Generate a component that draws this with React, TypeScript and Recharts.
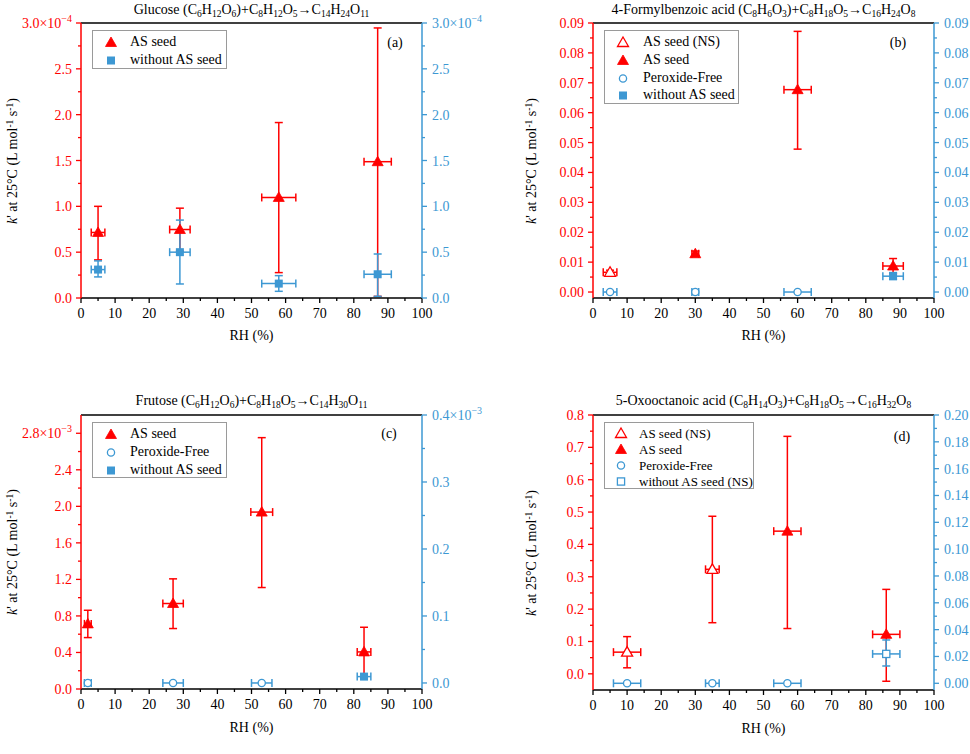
import React from 'react';
import { ScatterChart, Scatter, XAxis, YAxis, ErrorBar, ReferenceLine, Legend } from 'recharts';

const RED = '#ff0000';
const BLUE = '#3d98d3';
const FONT = '"Liberation Serif", "Times New Roman", Times, serif';

// ---------- shared x axis (RH %) ----------
const rhMajor = [0, 10, 20, 30, 40, 50, 60, 70, 80, 90, 100];
const rhLabels = ['0', '10', '20', '30', '40', '50', '60', '70', '80', '90', '100'];
const rhMinor = [5, 15, 25, 35, 45, 55, 65, 75, 85, 95];

// ---------- panel (a) Glucose, k' in 1e-4 ----------
const aTitle = 'Glucose (C_6H_12O_6)+C_8H_12O_5→C_14H_24O_11';
const aYMajor = [0, 0.5, 1.0, 1.5, 2.0, 2.5, 3.0];
const aYLabels = ['0.0', '0.5', '1.0', '1.5', '2.0', '2.5', '3.0×10'];
const aYMinor = [0.25, 0.75, 1.25, 1.75, 2.25, 2.75];
const aYExp = '−4';
const aAsRh = [5, 29, 58, 87];
const aAsRhErr = [2, 3, 5, 4];
const aAsK = [0.715, 0.747, 1.097, 1.487];
const aAsLo = [0.416, 0.51, 0.277, 0.018];
const aAsHi = [1.0, 0.98, 1.914, 2.946];
const aNoRh = [5, 29, 58, 87];
const aNoRhErr = [2, 3, 5, 4];
const aNoK = [0.31, 0.5, 0.157, 0.259];
const aNoLo = [0.23, 0.153, 0.073, 0.018];
const aNoHi = [0.405, 0.85, 0.244, 0.48];

// ---------- panel (b) 4-Formylbenzoic acid ----------
const bTitle = '4-Formylbenzoic acid (C_8H_6O_3)+C_8H_18O_5→C_16H_24O_8';
const bYMajor = [0, 0.01, 0.02, 0.03, 0.04, 0.05, 0.06, 0.07, 0.08, 0.09];
const bYLabels = ['0.00', '0.01', '0.02', '0.03', '0.04', '0.05', '0.06', '0.07', '0.08', '0.09'];
const bYMinor = [0.005, 0.015, 0.025, 0.035, 0.045, 0.055, 0.065, 0.075, 0.085];
const bNsRh = [5];
const bNsRhErr = [2];
const bNsK = [0.0066];
const bNsLo = [0.0059];
const bNsHi = [0.0073];
const bAsRh = [30, 60, 88];
const bAsRhErr = [1, 4, 3];
const bAsK = [0.0128, 0.0677, 0.0087];
const bAsLo = [0.0119, 0.0478, 0.0062];
const bAsHi = [0.0137, 0.0872, 0.0112];
const bPfRh = [5, 30, 60];
const bPfRhErr = [2, 1, 4];
const bPfK = [0, 0, 0];
const bNoRh = [88];
const bNoRhErr = [3];
const bNoK = [0.0053];
const bNoLo = [0.0042];
const bNoHi = [0.0065];

// ---------- panel (c) Frutose, k' in 1e-3 ----------
const cTitle = 'Frutose (C_6H_12O_6)+C_8H_18O_5→C_14H_30O_11';
const cYMajor = [0, 0.4, 0.8, 1.2, 1.6, 2.0, 2.4, 2.8];
const cYLabels = ['0.0', '0.4', '0.8', '1.2', '1.6', '2.0', '2.4', '2.8×10'];
const cYMinor = [0.2, 0.6, 1.0, 1.4, 1.8, 2.2, 2.6];
const cYExp = '−3';
const cRMajor = [0, 0.1, 0.2, 0.3, 0.4];
const cRLabels = ['0.0', '0.1', '0.2', '0.3', '0.4×10'];
const cRMinor = [0.05, 0.15, 0.25, 0.35];
const cAsRh = [2, 27, 53, 83];
const cAsRhErr = [1, 3, 3.2, 2];
const cAsK = [0.713, 0.936, 1.937, 0.406];
const cAsLo = [0.563, 0.662, 1.111, 0.12];
const cAsHi = [0.862, 1.206, 2.752, 0.676];
const cPfRh = [2, 27, 53];
const cPfRhErr = [1, 3, 3];
const cPfK = [0, 0, 0];
const cNoRh = [83];
const cNoRhErr = [2];
const cNoK = [0.0095];
const cNoLo = [0.006];
const cNoHi = [0.013];

// ---------- panel (d) 5-Oxooctanoic acid ----------
const dTitle = '5-Oxooctanoic acid (C_8H_14O_3)+C_8H_18O_5→C_16H_32O_8';
const dYMajor = [0, 0.1, 0.2, 0.3, 0.4, 0.5, 0.6, 0.7, 0.8];
const dYLabels = ['0.0', '0.1', '0.2', '0.3', '0.4', '0.5', '0.6', '0.7', '0.8'];
const dYMinor = [0.05, 0.15, 0.25, 0.35, 0.45, 0.55, 0.65, 0.75];
const dRMajor = [0, 0.02, 0.04, 0.06, 0.08, 0.1, 0.12, 0.14, 0.16, 0.18, 0.2];
const dRLabels = ['0.00', '0.02', '0.04', '0.06', '0.08', '0.10', '0.12', '0.14', '0.16', '0.18', '0.20'];
const dRMinor = [0.01, 0.03, 0.05, 0.07, 0.09, 0.11, 0.13, 0.15, 0.17, 0.19];
const dNsRh = [10, 35];
const dNsRhErr = [4, 2];
const dNsK = [0.067, 0.323];
const dNsLo = [0.0186, 0.158];
const dNsHi = [0.115, 0.487];
const dAsRh = [57, 86];
const dAsRhErr = [4, 4];
const dAsK = [0.441, 0.122];
const dAsLo = [0.14, -0.023];
const dAsHi = [0.734, 0.261];
const dPfRh = [10, 35, 57];
const dPfRhErr = [4, 2, 4];
const dPfK = [0, 0, 0];
const dNoRh = [86];
const dNoRhErr = [4];
const dNoK = [0.0219];
const dNoLo = [0.0129];
const dNoHi = [0.0323];

// ---------- types ----------
type MarkerKind = 'triFill' | 'triOpen' | 'circOpen' | 'sqFill' | 'sqOpen';
type AxisCfg = {
  domain: [number, number];
  major: number[];
  labels: string[];
  minor: number[];
  exp?: string;
  color: string;
};
type SeriesCfg = {
  name: string;
  rh: number[];
  rhErr: number[];
  k: number[];
  lo?: number[];
  hi?: number[];
  color: string;
  marker: MarkerKind;
  axis: 'left' | 'right';
};
type PanelCfg = {
  id: string;
  left: number;
  top: number;
  title: string;
  titleY: number;
  tag: string;
  tagX: number;
  tagY: number;
  plotTop: number;
  plotBottom: number;
  leftW: number;
  rightW: number;
  yLabelX: number;
  xLabelY: number;
  yl: AxisCfg;
  yr: AxisCfg;
  series: SeriesCfg[];
  legend: { x: number; y: number; w: number; h: number; rows: number[]; mx: number; tx: number; fs: number };
};

const xCfg: AxisCfg = { domain: [0, 100], major: rhMajor, labels: rhLabels, minor: rhMinor, color: '#000' };

// ---------- helpers ----------
function Marker({ cx, cy, kind, color }: { cx: number; cy: number; kind: MarkerKind; color: string }) {
  if (cx == null || cy == null || isNaN(cx) || isNaN(cy)) return null;
  switch (kind) {
    case 'triFill':
    case 'triOpen': {
      const pts = `${cx},${cy - 5.5} ${cx + 5.5},${cy + 4} ${cx - 5.5},${cy + 4}`;
      return kind === 'triFill' ? (
        <polygon points={pts} fill={color} stroke={color} strokeWidth={0.8} />
      ) : (
        <polygon points={pts} fill="#fff" stroke={color} strokeWidth={1.3} />
      );
    }
    case 'circOpen':
      return <circle cx={cx} cy={cy} r={3.6} fill="#fff" stroke={color} strokeWidth={1.3} />;
    case 'sqFill':
      return <rect x={cx - 4} y={cy - 4} width={8} height={8} fill={color} />;
    case 'sqOpen':
      return <rect x={cx - 3.6} y={cy - 3.6} width={7.2} height={7.2} fill="#fff" stroke={color} strokeWidth={1.3} />;
  }
  return null;
}

function AxisTick(props: any) {
  const { x, y, payload, side, cfg } = props;
  const v = payload ? payload.value : 0;
  const idx = cfg.major.findIndex((t: number) => Math.abs(t - v) < 1e-9);
  const major = idx >= 0;
  const len = major ? 5 : 3;
  const color = cfg.color;
  if (side === 'bottom') {
    return (
      <g>
        <line x1={x} y1={y} x2={x} y2={y + len} stroke={color} strokeWidth={1.3} />
        {major && (
          <text x={x} y={y + 20} textAnchor="middle" fill={color} fontSize={14} style={{ fontFamily: FONT }}>
            {cfg.labels[idx]}
          </text>
        )}
      </g>
    );
  }
  const dir = side === 'left' ? -1 : 1;
  const isTop = cfg.exp && idx === cfg.major.length - 1;
  return (
    <g>
      <line x1={x} y1={y} x2={x + dir * len} y2={y} stroke={color} strokeWidth={1.3} />
      {major && (
        <text
          x={side === 'left' ? x - 9 : x + 10}
          y={y + 5}
          textAnchor={side === 'left' ? 'end' : 'start'}
          fill={color}
          fontSize={14}
          style={{ fontFamily: FONT }}
        >
          {cfg.labels[idx]}
          {isTop && (
            <tspan dy={-6} fontSize={10}>
              {cfg.exp}
            </tspan>
          )}
        </text>
      )}
    </g>
  );
}

function Chem({ text }: { text: string }) {
  const parts = text.split(/(_\d+)/);
  return (
    <>
      {parts.map((p, i) =>
        p.startsWith('_') ? (
          <sub key={i} style={{ fontSize: '0.68em', verticalAlign: '-0.3em', lineHeight: 0 }}>
            {p.slice(1)}
          </sub>
        ) : (
          <span key={i}>{p}</span>
        )
      )}
    </>
  );
}

function LegendBox({ cfg }: { cfg: PanelCfg }) {
  const L = cfg.legend;
  return (
    <div
      style={{
        position: 'relative',
        width: L.w,
        height: L.h,
        border: '1px solid #9a9a9a',
        boxSizing: 'border-box',
        background: '#fff',
        fontFamily: FONT,
        fontSize: L.fs,
        color: '#000',
      }}
    >
      {cfg.series.map((s, i) => (
        <React.Fragment key={s.name}>
          <svg
            width={14}
            height={14}
            style={{ position: 'absolute', left: L.mx - 7, top: L.rows[i] - 7, overflow: 'visible' }}
          >
            <Marker cx={7} cy={7.5} kind={s.marker} color={s.color} />
          </svg>
          <div
            style={{
              position: 'absolute',
              left: L.tx,
              top: L.rows[i],
              transform: 'translateY(-50%)',
              whiteSpace: 'nowrap',
              lineHeight: 1,
            }}
          >
            {s.name}
          </div>
        </React.Fragment>
      ))}
    </div>
  );
}

function allTicks(c: AxisCfg) {
  return [...c.major, ...c.minor].sort((a, b) => a - b);
}

function Panel({ cfg }: { cfg: PanelCfg }) {
  const W = 485;
  const H = 377;
  const xAxisH = H - cfg.plotBottom;
  const plotCx = cfg.leftW + (W - cfg.leftW - cfg.rightW) / 2;
  const plotCy = (cfg.plotTop + cfg.plotBottom) / 2;
  return (
    <div style={{ position: 'absolute', left: cfg.left, top: cfg.top, width: W, height: H }}>
      <ScatterChart width={W} height={H} margin={{ top: cfg.plotTop, right: 0, bottom: 0, left: 0 }}>
        <XAxis
          dataKey="x"
          type="number"
          domain={xCfg.domain}
          ticks={allTicks(xCfg)}
          interval={0}
          allowDataOverflow
          height={xAxisH}
          tickLine={false}
          tickSize={0}
          tickMargin={0}
          axisLine={{ stroke: '#000', strokeWidth: 1.5 }}
          tick={(p: any) => <AxisTick {...p} side="bottom" cfg={xCfg} />}
        />
        <YAxis
          yAxisId="left"
          orientation="left"
          dataKey="y"
          type="number"
          domain={cfg.yl.domain}
          ticks={allTicks(cfg.yl)}
          interval={0}
          allowDataOverflow
          width={cfg.leftW}
          tickLine={false}
          tickSize={0}
          tickMargin={0}
          axisLine={{ stroke: cfg.yl.color, strokeWidth: 1.5 }}
          tick={(p: any) => <AxisTick {...p} side="left" cfg={cfg.yl} />}
        />
        <YAxis
          yAxisId="right"
          orientation="right"
          dataKey="y"
          type="number"
          domain={cfg.yr.domain}
          ticks={allTicks(cfg.yr)}
          interval={0}
          allowDataOverflow
          width={cfg.rightW}
          tickLine={false}
          tickSize={0}
          tickMargin={0}
          axisLine={{ stroke: cfg.yr.color, strokeWidth: 1.5 }}
          tick={(p: any) => <AxisTick {...p} side="right" cfg={cfg.yr} />}
        />
        <ReferenceLine yAxisId="left" y={cfg.yl.domain[1]} stroke="#000" strokeWidth={1.5} />
        {cfg.series.map((s) => {
          const data = s.rh.map((x, i) => ({
            x,
            y: s.k[i],
            ex: [s.rhErr[i], s.rhErr[i]],
            ey: s.lo && s.hi ? [s.k[i] - s.lo[i], s.hi[i] - s.k[i]] : undefined,
          }));
          return (
            <Scatter
              key={s.name}
              name={s.name}
              data={data}
              yAxisId={s.axis}
              isAnimationActive={false}
              shape={(p: any) => <Marker cx={p.cx} cy={p.cy} kind={s.marker} color={s.color} />}
            >
              <ErrorBar dataKey="ex" direction="x" width={4} stroke={s.color} strokeWidth={1.5} />
              {s.lo && <ErrorBar dataKey="ey" direction="y" width={4} stroke={s.color} strokeWidth={1.5} />}
            </Scatter>
          );
        })}
        <Legend
          layout="horizontal"
          verticalAlign="middle"
          align="center"
          wrapperStyle={{ left: cfg.legend.x, top: cfg.legend.y, width: cfg.legend.w, height: cfg.legend.h }}
          content={() => <LegendBox cfg={cfg} />}
        />
      </ScatterChart>
      <div
        style={{
          position: 'absolute',
          left: plotCx,
          top: cfg.titleY,
          transform: 'translate(-50%, -50%)',
          whiteSpace: 'nowrap',
          fontFamily: FONT,
          fontSize: 14,
          lineHeight: 1,
        }}
      >
        <Chem text={cfg.title} />
      </div>
      <div
        style={{
          position: 'absolute',
          left: cfg.tagX,
          top: cfg.tagY,
          transform: 'translate(-50%, -50%)',
          whiteSpace: 'nowrap',
          fontFamily: FONT,
          fontSize: 14,
          lineHeight: 1,
        }}
      >
        {cfg.tag}
      </div>
      <div
        style={{
          position: 'absolute',
          left: cfg.yLabelX,
          top: plotCy,
          transform: 'translate(-50%, -50%) rotate(-90deg)',
          whiteSpace: 'nowrap',
          fontFamily: FONT,
          fontSize: 14,
          lineHeight: 1,
        }}
      >
        <i>k</i>' at 25°C (L mol
        <sup style={{ fontSize: '0.68em', verticalAlign: '0.45em', lineHeight: 0 }}>-1</sup> s
        <sup style={{ fontSize: '0.68em', verticalAlign: '0.45em', lineHeight: 0 }}>-1</sup>)
      </div>
      <div
        style={{
          position: 'absolute',
          left: plotCx,
          top: cfg.xLabelY,
          transform: 'translate(-50%, -50%)',
          whiteSpace: 'nowrap',
          fontFamily: FONT,
          fontSize: 14,
          lineHeight: 1,
        }}
      >
        RH (%)
      </div>
    </div>
  );
}

// ---------- panel configurations ----------
const panels: PanelCfg[] = [
  {
    id: 'a',
    left: 0,
    top: 0,
    title: aTitle,
    titleY: 10,
    tag: '(a)',
    tagX: 395,
    tagY: 43,
    plotTop: 23,
    plotBottom: 298,
    leftW: 81,
    rightW: 63,
    yLabelX: 13,
    xLabelY: 336,
    yl: { domain: [0, 3], major: aYMajor, labels: aYLabels, minor: aYMinor, exp: aYExp, color: RED },
    yr: { domain: [0, 3], major: aYMajor, labels: aYLabels, minor: aYMinor, exp: aYExp, color: BLUE },
    series: [
      { name: 'AS seed', rh: aAsRh, rhErr: aAsRhErr, k: aAsK, lo: aAsLo, hi: aAsHi, color: RED, marker: 'triFill', axis: 'left' },
      { name: 'without AS seed', rh: aNoRh, rhErr: aNoRhErr, k: aNoK, lo: aNoLo, hi: aNoHi, color: BLUE, marker: 'sqFill', axis: 'right' },
    ],
    legend: { x: 92, y: 30, w: 135, h: 39, rows: [11, 28.5], mx: 18, tx: 37, fs: 14 },
  },
  {
    id: 'b',
    left: 485,
    top: 0,
    title: bTitle,
    titleY: 10,
    tag: '(b)',
    tagX: 413,
    tagY: 43,
    plotTop: 23,
    plotBottom: 298,
    leftW: 108,
    rightW: 36,
    yLabelX: 47,
    xLabelY: 336,
    yl: { domain: [-0.002, 0.09], major: bYMajor, labels: bYLabels, minor: bYMinor, color: RED },
    yr: { domain: [-0.002, 0.09], major: bYMajor, labels: bYLabels, minor: bYMinor, color: BLUE },
    series: [
      { name: 'AS seed (NS)', rh: bNsRh, rhErr: bNsRhErr, k: bNsK, lo: bNsLo, hi: bNsHi, color: RED, marker: 'triOpen', axis: 'left' },
      { name: 'AS seed', rh: bAsRh, rhErr: bAsRhErr, k: bAsK, lo: bAsLo, hi: bAsHi, color: RED, marker: 'triFill', axis: 'left' },
      { name: 'Peroxide-Free', rh: bPfRh, rhErr: bPfRhErr, k: bPfK, color: BLUE, marker: 'circOpen', axis: 'right' },
      { name: 'without AS seed', rh: bNoRh, rhErr: bNoRhErr, k: bNoK, lo: bNoLo, hi: bNoHi, color: BLUE, marker: 'sqFill', axis: 'right' },
    ],
    legend: { x: 119, y: 30, w: 135, h: 74, rows: [11, 28.5, 46.5, 64], mx: 18, tx: 38, fs: 14 },
  },
  {
    id: 'c',
    left: 0,
    top: 377,
    title: cTitle,
    titleY: 24,
    tag: '(c)',
    tagX: 389,
    tagY: 57,
    plotTop: 38,
    plotBottom: 312,
    leftW: 81,
    rightW: 63,
    yLabelX: 13,
    xLabelY: 351,
    yl: { domain: [0, 3.0], major: cYMajor, labels: cYLabels, minor: cYMinor, exp: cYExp, color: RED },
    yr: { domain: [-0.009, 0.4], major: cRMajor, labels: cRLabels, minor: cRMinor, exp: cYExp, color: BLUE },
    series: [
      { name: 'AS seed', rh: cAsRh, rhErr: cAsRhErr, k: cAsK, lo: cAsLo, hi: cAsHi, color: RED, marker: 'triFill', axis: 'left' },
      { name: 'Peroxide-Free', rh: cPfRh, rhErr: cPfRhErr, k: cPfK, color: BLUE, marker: 'circOpen', axis: 'right' },
      { name: 'without AS seed', rh: cNoRh, rhErr: cNoRhErr, k: cNoK, lo: cNoLo, hi: cNoHi, color: BLUE, marker: 'sqFill', axis: 'right' },
    ],
    legend: { x: 92, y: 45, w: 135, h: 56, rows: [11, 29, 46.5], mx: 18, tx: 37, fs: 14 },
  },
  {
    id: 'd',
    left: 485,
    top: 377,
    title: dTitle,
    titleY: 24,
    tag: '(d)',
    tagX: 417,
    tagY: 60,
    plotTop: 38,
    plotBottom: 313,
    leftW: 108,
    rightW: 36,
    yLabelX: 47,
    xLabelY: 352,
    yl: { domain: [-0.05, 0.8], major: dYMajor, labels: dYLabels, minor: dYMinor, color: RED },
    yr: { domain: [-0.005, 0.2], major: dRMajor, labels: dRLabels, minor: dRMinor, color: BLUE },
    series: [
      { name: 'AS seed (NS)', rh: dNsRh, rhErr: dNsRhErr, k: dNsK, lo: dNsLo, hi: dNsHi, color: RED, marker: 'triOpen', axis: 'left' },
      { name: 'AS seed', rh: dAsRh, rhErr: dAsRhErr, k: dAsK, lo: dAsLo, hi: dAsHi, color: RED, marker: 'triFill', axis: 'left' },
      { name: 'Peroxide-Free', rh: dPfRh, rhErr: dPfRhErr, k: dPfK, color: BLUE, marker: 'circOpen', axis: 'right' },
      { name: 'without AS seed (NS)', rh: dNoRh, rhErr: dNoRhErr, k: dNoK, lo: dNoLo, hi: dNoHi, color: BLUE, marker: 'sqOpen', axis: 'right' },
    ],
    legend: { x: 119, y: 45, w: 150, h: 67, rows: [10, 26, 42, 58], mx: 16, tx: 34, fs: 13 },
  },
];

export default function App() {
  return (
    <div style={{ position: 'absolute', left: 0, top: 0, width: 970, height: 754, background: '#fff', overflow: 'hidden' }}>
      {panels.map((p) => (
        <Panel key={p.id} cfg={p} />
      ))}
    </div>
  );
}
